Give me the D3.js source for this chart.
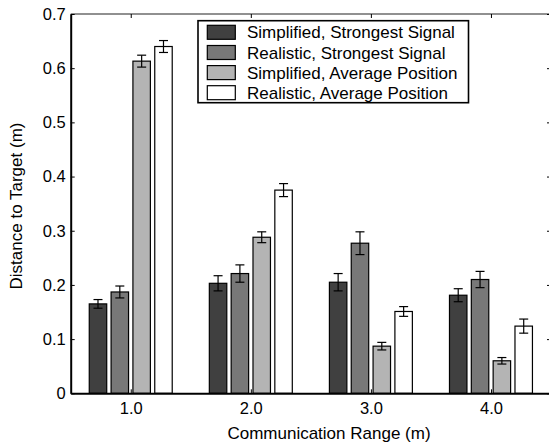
<!DOCTYPE html>
<html>
<head>
<meta charset="utf-8">
<script src="https://cdn.jsdelivr.net/npm/d3@7"></script>
<style>
  html, body { margin: 0; padding: 0; background: #fff; }
  svg { display: block; font-family: "Liberation Sans", Arial, Helvetica, sans-serif; }
</style>
</head>
<body>
<svg id="chart" width="549" height="443"></svg>
<script>
// Communication range settings (x positions 1..4)
const ranges = [1, 2, 3, 4];
const rangeLabels = ["1.0", "2.0", "3.0", "4.0"];

// Series names
const seriesNames = [
  "Simplified, Strongest Signal",
  "Realistic, Strongest Signal",
  "Simplified, Average Position",
  "Realistic, Average Position"
];

// Mean distance to target (m), one array per series
const simplifiedStrongest = [0.165, 0.203, 0.205, 0.181];
const realisticStrongest  = [0.187, 0.221, 0.277, 0.210];
const simplifiedAverage   = [0.613, 0.288, 0.087, 0.060];
const realisticAverage    = [0.640, 0.375, 0.151, 0.124];

// Error half-widths (m)
const simplifiedStrongestErr = [0.008, 0.014, 0.016, 0.012];
const realisticStrongestErr  = [0.011, 0.016, 0.021, 0.015];
const simplifiedAverageErr   = [0.011, 0.010, 0.007, 0.006];
const realisticAverageErr    = [0.011, 0.012, 0.009, 0.013];

const yTicks = [0, 0.1, 0.2, 0.3, 0.4, 0.5, 0.6, 0.7];
const yTickLabels = ["0", "0.1", "0.2", "0.3", "0.4", "0.5", "0.6", "0.7"];

const seriesValues = [simplifiedStrongest, realisticStrongest, simplifiedAverage, realisticAverage];
const seriesErrors = [simplifiedStrongestErr, realisticStrongestErr, simplifiedAverageErr, realisticAverageErr];
const fills = ["#404040", "#787878", "#b4b4b4", "#ffffff"];

const svg = d3.select("#chart");

const plotL = 70.7, plotR = 551, plotT = 14, plotB = 393.3;
const x = d3.scaleLinear().domain([0.5, 4.5]).range([plotL, plotR]);
const y = d3.scaleLinear().domain([0, 0.7]).range([plotB, plotT]);

// grouped bar geometry in data units
const nSeries = seriesValues.length;
const groupWidth = Math.min(0.8, nSeries / (nSeries + 1.5));
const pitch = groupWidth / nSeries;
const barW = pitch * 0.8;

const rows = [];
seriesValues.forEach((vals, s) => {
  vals.forEach((v, i) => {
    rows.push({ s, x: ranges[i] + (s - (nSeries - 1) / 2) * pitch, v, e: seriesErrors[s][i] });
  });
});

// bars
svg.append("g").selectAll("rect").data(rows).join("rect")
  .attr("x", d => x(d.x - barW / 2))
  .attr("width", d => x(d.x + barW / 2) - x(d.x - barW / 2))
  .attr("y", d => y(d.v))
  .attr("height", d => y(0) - y(d.v))
  .attr("fill", d => fills[d.s])
  .attr("stroke", "#000")
  .attr("stroke-width", 1.2);

// error bars
const eb = svg.append("g").attr("stroke", "#000").attr("stroke-width", 1.2).attr("fill", "none");
const capHalf = 4.5;
rows.forEach(d => {
  const cx = x(d.x);
  eb.append("line").attr("x1", cx).attr("x2", cx).attr("y1", y(d.v - d.e)).attr("y2", y(d.v + d.e));
  eb.append("line").attr("x1", cx - capHalf).attr("x2", cx + capHalf).attr("y1", y(d.v - d.e)).attr("y2", y(d.v - d.e));
  eb.append("line").attr("x1", cx - capHalf).attr("x2", cx + capHalf).attr("y1", y(d.v + d.e)).attr("y2", y(d.v + d.e));
});

// frame
const frame = svg.append("g").attr("fill", "none");
frame.append("line").attr("x1", plotL).attr("x2", plotR).attr("y1", plotT).attr("y2", plotT)
  .attr("stroke", "#222").attr("stroke-width", 1.2);
frame.append("line").attr("x1", plotR).attr("x2", plotR).attr("y1", plotT).attr("y2", plotB)
  .attr("stroke", "#222").attr("stroke-width", 1.2);

// left axis with inward ticks
const yAxis = d3.axisLeft(y).tickValues(yTicks)
  .tickFormat((d, i) => yTickLabels[i]).tickSizeInner(-4).tickSizeOuter(0).tickPadding(5);
const gy = svg.append("g").attr("transform", `translate(${plotL},0)`).call(yAxis);
gy.select(".domain").attr("stroke", "#000").attr("stroke-width", 2);
gy.selectAll(".tick line").attr("stroke", "#000").attr("stroke-width", 1);
gy.selectAll(".tick text").attr("font-size", 16.5).attr("fill", "#000")
  .attr("font-family", "Liberation Sans, Arial, sans-serif");

// right-side inward ticks
const yRight = d3.axisRight(y).tickValues(yTicks).tickFormat("").tickSizeInner(-4).tickSizeOuter(0);
const gyr = svg.append("g").attr("transform", `translate(${plotR},0)`).call(yRight);
gyr.select(".domain").remove();
gyr.selectAll(".tick line").attr("stroke", "#000");

// bottom axis
const xAxis = d3.axisBottom(x).tickValues(ranges)
  .tickFormat((d, i) => rangeLabels[i]).tickSizeInner(-4).tickSizeOuter(0).tickPadding(9);
const gx = svg.append("g").attr("transform", `translate(0,${plotB})`).call(xAxis);
gx.select(".domain").attr("stroke", "#000").attr("stroke-width", 2);
gx.selectAll(".tick line").attr("stroke", "#000");
gx.selectAll(".tick text").attr("font-size", 16.5).attr("fill", "#000")
  .attr("font-family", "Liberation Sans, Arial, sans-serif");

// top inward ticks
const xTop = d3.axisTop(x).tickValues(ranges).tickFormat("").tickSizeInner(-4).tickSizeOuter(0);
const gxt = svg.append("g").attr("transform", `translate(0,${plotT})`).call(xTop);
gxt.select(".domain").remove();
gxt.selectAll(".tick line").attr("stroke", "#000");

// axis titles
svg.append("text").attr("x", 329).attr("y", 439)
  .attr("text-anchor", "middle").attr("font-size", 17).text("Communication Range (m)");
svg.append("text").attr("transform", "translate(22,206) rotate(-90)")
  .attr("text-anchor", "middle").attr("font-size", 17).text("Distance to Target (m)");

// legend
const lg = svg.append("g");
lg.append("rect").attr("x", 198).attr("y", 20.7).attr("width", 270.5).attr("height", 82)
  .attr("fill", "#fff").attr("stroke", "#000").attr("stroke-width", 1.6);
const rowY = [32.3, 52.5, 72.6, 92.7];
seriesNames.forEach((name, i) => {
  lg.append("rect").attr("x", 207.3).attr("y", rowY[i] - 7).attr("width", 28).attr("height", 14)
    .attr("fill", fills[i]).attr("stroke", "#000").attr("stroke-width", 1.2);
  lg.append("text").attr("x", 247).attr("y", rowY[i]).attr("dy", "0.36em")
    .attr("font-size", 17).text(name);
});
</script>
</body>
</html>
